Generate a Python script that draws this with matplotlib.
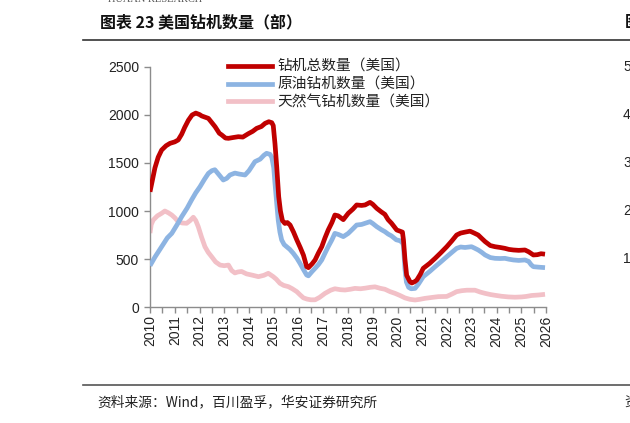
import matplotlib
matplotlib.use("Agg")
import matplotlib.pyplot as plt
from matplotlib.lines import Line2D
from matplotlib.ticker import MultipleLocator

plt.rcParams['font.family'] = ['Noto Sans CJK SC', 'DejaVu Sans']

# ---- data ----
total_t = [2010.00, 2010.08, 2010.20, 2010.33, 2010.47, 2010.65, 2010.81, 2011.00, 2011.14, 2011.28,
           2011.40, 2011.55, 2011.70, 2011.85, 2012.00, 2012.09, 2012.25, 2012.36, 2012.50, 2012.63,
           2012.80, 2012.90, 2013.05, 2013.17, 2013.35, 2013.57, 2013.75, 2013.97, 2014.15, 2014.31,
           2014.50, 2014.65, 2014.80, 2014.92, 2014.98, 2015.05, 2015.12, 2015.20, 2015.27, 2015.35,
           2015.45, 2015.55, 2015.66, 2015.80, 2015.93, 2016.07, 2016.20, 2016.33, 2016.40, 2016.55,
           2016.67, 2016.80, 2016.94, 2017.07, 2017.20, 2017.35, 2017.47, 2017.60, 2017.81, 2018.01,
           2018.20, 2018.35, 2018.55, 2018.69, 2018.89, 2019.00, 2019.16, 2019.35, 2019.49, 2019.62,
           2019.76, 2019.97, 2020.10, 2020.20, 2020.24, 2020.30, 2020.37, 2020.50, 2020.58, 2020.70,
           2020.78, 2020.92, 2021.04, 2021.30, 2021.52, 2021.75, 2021.99, 2022.20, 2022.39, 2022.55,
           2022.73, 2022.93, 2023.10, 2023.26, 2023.40, 2023.54, 2023.75, 2023.94, 2024.15, 2024.34,
           2024.50, 2024.68, 2024.90, 2025.15, 2025.30, 2025.49, 2025.65, 2025.80, 2025.96]
total_v = [1200, 1300, 1450, 1560, 1635, 1680, 1705, 1720, 1740, 1800,
           1870, 1945, 2000, 2020, 2005, 1990, 1975, 1965, 1920, 1878,
           1810, 1792, 1760, 1757, 1765, 1774, 1770, 1805, 1830, 1861,
           1880, 1913, 1930, 1920, 1890, 1700, 1461, 1150, 1000, 900,
           870, 880, 854, 780, 700, 620, 540, 420, 410, 450,
           490, 560, 628, 720, 802, 880, 958, 950, 910, 976,
           1020, 1063, 1058, 1063, 1090, 1070, 1028, 990, 965, 910,
           872, 802, 790, 780, 700, 500, 330, 265, 250, 265,
           281, 340, 403, 455, 507, 565, 628, 690, 750, 770,
           780, 790, 770, 750, 715, 681, 640, 628, 620, 611,
           600, 594, 590, 594, 575, 542, 545, 555, 550]

oil_t = [2010.00, 2010.20, 2010.47, 2010.70, 2010.88, 2011.10, 2011.28, 2011.50, 2011.68, 2011.85,
         2012.02, 2012.20, 2012.36, 2012.50, 2012.62, 2012.78, 2012.96, 2013.10, 2013.23, 2013.43,
         2013.60, 2013.84, 2014.00, 2014.24, 2014.45, 2014.60, 2014.71, 2014.85, 2014.92, 2015.00,
         2015.05, 2015.12, 2015.18, 2015.25, 2015.32, 2015.42, 2015.52, 2015.65, 2015.79, 2015.93,
         2016.06, 2016.20, 2016.33, 2016.40, 2016.55, 2016.67, 2016.80, 2016.94, 2017.07, 2017.20,
         2017.35, 2017.47, 2017.62, 2017.81, 2018.01, 2018.20, 2018.35, 2018.55, 2018.69, 2018.89,
         2019.00, 2019.16, 2019.35, 2019.49, 2019.62, 2019.76, 2019.95, 2020.10, 2020.20, 2020.24,
         2020.30, 2020.36, 2020.45, 2020.55, 2020.71, 2020.85, 2021.04, 2021.30, 2021.52, 2021.75,
         2021.99, 2022.20, 2022.39, 2022.55, 2022.73, 2022.99, 2023.10, 2023.26, 2023.40, 2023.54,
         2023.75, 2023.94, 2024.15, 2024.34, 2024.50, 2024.68, 2024.90, 2025.15, 2025.30, 2025.40,
         2025.49, 2025.70, 2025.96]
oil_v = [430, 520, 628, 720, 767, 860, 941, 1030, 1115, 1190,
         1253, 1330, 1392, 1420, 1430, 1380, 1323, 1340, 1375, 1395,
         1385, 1375, 1420, 1514, 1540, 1580, 1601, 1590, 1560, 1450,
         1289, 1080, 906, 780, 698, 650, 628, 600, 559, 510,
         455, 390, 333, 325, 370, 403, 440, 490, 560, 628,
         700, 767, 755, 733, 767, 815, 854, 860, 872, 889,
         870, 837, 805, 785, 760, 740, 700, 690, 670, 640,
         400, 260, 205, 190, 194, 240, 316, 370, 420, 470,
         524, 570, 611, 625, 620, 628, 615, 594, 570, 542,
         515, 507, 505, 507, 498, 490, 485, 490, 475, 440,
         420, 415, 410]

gas_t = [2010.00, 2010.05, 2010.13, 2010.30, 2010.47, 2010.60, 2010.75, 2010.88, 2011.00, 2011.14,
         2011.30, 2011.48, 2011.62, 2011.75, 2011.85, 2011.95, 2012.08, 2012.22, 2012.35, 2012.49,
         2012.65, 2012.83, 2013.00, 2013.17, 2013.30, 2013.43, 2013.55, 2013.70, 2013.90, 2014.11,
         2014.38, 2014.60, 2014.78, 2014.98, 2015.10, 2015.25, 2015.40, 2015.59, 2015.75, 2015.93,
         2016.07, 2016.20, 2016.35, 2016.50, 2016.67, 2016.85, 2017.07, 2017.30, 2017.47, 2017.70,
         2017.88, 2018.10, 2018.28, 2018.50, 2018.69, 2018.90, 2019.09, 2019.30, 2019.49, 2019.70,
         2019.90, 2020.10, 2020.30, 2020.50, 2020.71, 2020.90, 2021.11, 2021.40, 2021.65, 2021.99,
         2022.20, 2022.39, 2022.60, 2022.80, 2023.13, 2023.35, 2023.54, 2023.75, 2023.94, 2024.20,
         2024.48, 2024.75, 2025.02, 2025.20, 2025.42, 2025.70, 2025.96]
gas_v = [770, 860, 906, 950, 976, 1000, 980, 958, 930, 889,
         875, 872, 900, 935, 900, 837, 730, 628, 570, 524,
         470, 437, 430, 437, 380, 355, 365, 370, 345, 333,
         316, 330, 351, 316, 290, 247, 225, 212, 190, 160,
         125, 95, 82, 75, 75, 100, 142, 175, 190, 180,
         177, 185, 194, 190, 196, 205, 210, 195, 185, 160,
         142, 120, 95, 80, 73, 80, 90, 100, 108, 110,
         135, 160, 170, 175, 175, 155, 142, 130, 122, 112,
         105, 102, 105, 110, 120, 125, 132]

labels = ['钻机总数量（美国）', '原油钻机数量（美国）', '天然气钻机数量（美国）']
colors = ['#C00000', '#8DB4E2', '#F2C0C7']
year_ticks = list(range(2010, 2027))
y_ticks = [0, 500, 1000, 1500, 2000, 2500]

W, H = 630, 423
fig = plt.figure(figsize=(W / 100, H / 100), dpi=100)

def fx(px):
    return px / W

def fy(py):
    return 1 - py / H

ax = fig.add_axes([fx(150), fy(307), fx(546) - fx(150), fy(67) - fy(307)])
lw = 3.4
ax.plot(gas_t, gas_v, color=colors[2], lw=lw, solid_capstyle='butt', zorder=2)
ax.plot(oil_t, oil_v, color=colors[1], lw=lw, solid_capstyle='butt', zorder=3)
ax.plot(total_t, total_v, color=colors[0], lw=lw, solid_capstyle='butt', zorder=4)

ax.set_xlim(2010, 2026)
ax.set_ylim(0, 2500)
ax.set_xticks(year_ticks)
ax.set_xticklabels([str(y) for y in year_ticks], rotation=90, fontsize=10,
                   family=['Liberation Sans'], color='#222222')
ax.xaxis.set_minor_locator(MultipleLocator(0.5))
ax.set_yticks(y_ticks)
ax.set_yticklabels([str(v) for v in y_ticks], fontsize=10, family=['Liberation Sans'],
                   color='#222222')
for s in ['top', 'right']:
    ax.spines[s].set_visible(False)
for s in ['left', 'bottom']:
    ax.spines[s].set_color('#8c8c8c')
    ax.spines[s].set_linewidth(1.0)
ax.tick_params(axis='both', which='both', direction='out', color='#8c8c8c', length=4, width=1.0)
ax.tick_params(axis='x', which='major', pad=2)
ax.tick_params(axis='y', pad=4)

handles = [Line2D([], [], color=c, lw=3.4) for c in colors]
leg = fig.legend(handles, labels, loc='upper left', bbox_to_anchor=(fx(228), fy(60)),
                 frameon=False, fontsize=10.6, handlelength=3.0, handletextpad=0.35,
                 labelspacing=0.25, borderaxespad=0, borderpad=0)
for t in leg.get_texts():
    t.set_color('#222222')

# header / footer
fig.text(fx(100), fy(22), '图表 23 美国钻机数量（部）', fontsize=11.5, fontweight='bold',
         va='center', ha='left', color='#111111')
fig.text(fx(108), fy(-1), 'HUAAN RESEARCH', fontsize=7.5, family=['Liberation Serif'],
         va='center', ha='left', color='#555555')
fig.add_artist(Line2D([fx(83), 1.0], [fy(40), fy(40)], color='#333333', lw=1.2))
fig.add_artist(Line2D([fx(83), 1.0], [fy(385), fy(385)], color='#555555', lw=1.2))
fig.text(fx(97), fy(402), '资料来源：Wind，百川盈孚，华安证券研究所', fontsize=9.9,
         va='center', ha='left', color='#222222')

# clipped neighbour content at right edge
fig.text(fx(625), fy(22), '图表', fontsize=11.5, fontweight='bold', va='center', ha='left',
         color='#111111')
for v, py in zip(['5', '4', '3', '2', '1'], [67, 115, 163, 211, 259]):
    fig.text(fx(623), fy(py), v, fontsize=10, family=['Liberation Sans'], va='center',
             ha='left', color='#222222')
fig.text(fx(624), fy(402), '资', fontsize=9.9, va='center', ha='left', color='#222222')

fig.savefig('out.png', dpi=100)
